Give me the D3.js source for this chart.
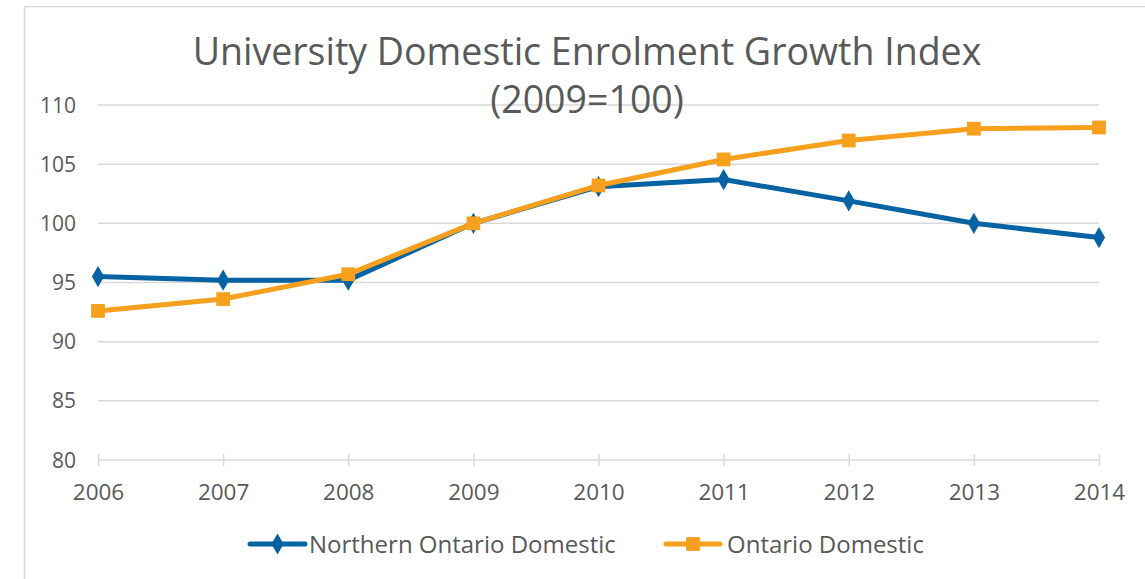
<!DOCTYPE html>
<html>
<head>
<meta charset="utf-8">
<script src="https://cdn.jsdelivr.net/npm/d3@7"></script>
<style>
  body { margin: 0; background: #fff; }
  text { font-family: "Open Sans", "Lato", sans-serif; fill: #595959; }
</style>
</head>
<body>
<div id="chart"></div>
<script>
const years = [2006, 2007, 2008, 2009, 2010, 2011, 2012, 2013, 2014];
const northern = [95.5, 95.2, 95.2, 100.0, 103.1, 103.7, 101.9, 100.0, 98.8];
const ontario = [92.6, 93.6, 95.7, 100.0, 103.2, 105.4, 107.0, 108.0, 108.1];
const yTicks = [80, 85, 90, 95, 100, 105, 110];
const titleLines = ['University Domestic Enrolment Growth Index', '(2009=100)'];

const width = 1145, height = 579;
const blue = '#0563A3';
const orange = '#F6A01E';

const svg = d3.select('#chart').append('svg')
  .attr('width', width)
  .attr('height', height);

// chart frame
svg.append('rect')
  .attr('x', 24.5).attr('y', 6.5)
  .attr('width', 1200).attr('height', 700)
  .attr('fill', 'none')
  .attr('stroke', '#d9d9d9')
  .attr('stroke-width', 1.5);

const x = d3.scalePoint().domain(years).range([98, 1099]);
const y = d3.scaleLinear().domain([80, 110]).range([460, 105]);

// gridlines
svg.append('g')
  .selectAll('line')
  .data(yTicks.filter(d => d > 80))
  .join('line')
  .attr('x1', 98).attr('x2', 1099)
  .attr('y1', d => y(d)).attr('y2', d => y(d))
  .attr('stroke', '#d9d9d9')
  .attr('stroke-width', 1.5);

// y labels
svg.append('g')
  .selectAll('text')
  .data(yTicks)
  .join('text')
  .attr('x', 76)
  .attr('y', d => y(d))
  .attr('dy', '0.36em')
  .attr('text-anchor', 'end')
  .style('font-size', '21px')
  .text(d => d);

// x axis
const xAxis = svg.append('g')
  .attr('transform', `translate(0,${y(80)})`)
  .call(d3.axisBottom(x).tickSize(9).tickPadding(15).tickSizeOuter(0));
xAxis.select('.domain').attr('stroke', '#d9d9d9').attr('stroke-width', 1.5)
  .attr('d', `M${x(2006)},0H${x(2014)}`);
xAxis.selectAll('.tick line').attr('stroke', '#d9d9d9').attr('stroke-width', 1.5)
  .attr('y1', -6).attr('y2', 6);
xAxis.selectAll('.tick text')
  .style('font-size', '22.5px')
  .style('font-family', '"Open Sans", sans-serif')
  .attr('fill', '#595959');

// title
svg.append('g')
  .selectAll('text')
  .data(titleLines)
  .join('text')
  .attr('x', 587)
  .attr('y', (d, i) => 65 + i * 48)
  .attr('text-anchor', 'middle')
  .style('font-size', '37.5px')
  .text(d => d);

const line = d3.line()
  .x((d, i) => x(years[i]))
  .y(d => y(d));

const diamond = d3.symbol().type(d3.symbolDiamond).size(130);
const square = d3.symbol().type(d3.symbolSquare).size(190);

function drawSeries(values, color, sym) {
  svg.append('path')
    .datum(values)
    .attr('fill', 'none')
    .attr('stroke', color)
    .attr('stroke-width', 5)
    .attr('stroke-linejoin', 'round')
    .attr('d', line);
  svg.append('g')
    .selectAll('path')
    .data(values)
    .join('path')
    .attr('transform', (d, i) => `translate(${x(years[i])},${y(d)})`)
    .attr('d', sym)
    .attr('fill', color);
}

drawSeries(northern, blue, diamond);
drawSeries(ontario, orange, square);

// legend
const legendItems = [
  { name: 'Northern Ontario Domestic', color: blue, sym: diamond, x0: 250, x1: 305, tx: 309 },
  { name: 'Ontario Domestic', color: orange, sym: square, x0: 666, x1: 720, tx: 727 }
];
const legend = svg.append('g')
  .selectAll('g')
  .data(legendItems)
  .join('g');
legend.append('line')
  .attr('x1', d => d.x0).attr('x2', d => d.x1)
  .attr('y1', 544).attr('y2', 544)
  .attr('stroke', d => d.color)
  .attr('stroke-width', 5)
  .attr('stroke-linecap', 'round');
legend.append('path')
  .attr('transform', d => `translate(${(d.x0 + d.x1) / 2},544)`)
  .attr('d', d => d.sym())
  .attr('fill', d => d.color);
legend.append('text')
  .attr('x', d => d.tx)
  .attr('y', 544)
  .attr('dy', '0.36em')
  .style('font-size', '24px')
  .text(d => d.name);
</script>
</body>
</html>
